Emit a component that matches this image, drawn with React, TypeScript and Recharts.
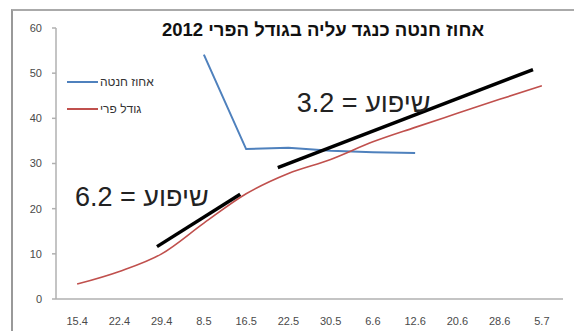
import { LineChart, Line, XAxis, YAxis, ReferenceLine, ReferenceDot } from 'recharts';

const CATEGORIES = ['15.4', '22.4', '29.4', '8.5', '16.5', '22.5', '30.5', '6.6', '12.6', '20.6', '28.6', '5.7'];
const FRUIT_SET = [null, null, null, 54.1, 33.2, 33.5, 32.8, 32.5, 32.3, null, null, null];
const FRUIT_SIZE = [3.3, 6.1, 10.0, 16.8, 23.3, 27.8, 30.9, 34.8, 38.0, 41.1, 44.2, 47.2];
const Y_TICKS = [0, 10, 20, 30, 40, 50, 60];

// trend segments in (category index, value) units
const TREND_1 = [{ x: 1.89, y: 11.6 }, { x: 3.86, y: 23.2 }];
const TREND_2 = [{ x: 4.75, y: 29.1 }, { x: 10.79, y: 50.8 }];
const SLOPE_LABELS = [
  { x: -0.05, y: 20.5, text: '6.2 = שיפוע' },
  { x: 5.2, y: 41.5, text: '3.2 = שיפוע' },
];
const BOUNDARY_TICKS = Array.from({ length: 13 }, (_, i) => i - 0.5);

const SERIES = [
  { key: 'set', name: 'אחוז חנטה', color: '#4f81bd' },
  { key: 'size', name: 'גודל פרי', color: '#c0504d' },
];

const data = CATEGORIES.map((c, i) => ({ cat: c, set: FRUIT_SET[i], size: FRUIT_SIZE[i] }));

const FONT = '"Liberation Sans", Arial, sans-serif';
const AXIS = '#b0b0b0';
const W = 574;
const H = 331;
const PLOT_W = W - 56 - 11;

function SlopeText(props: any) {
  const { viewBox, value } = props;
  return (
    <text x={viewBox.x} y={viewBox.y} fontSize={27} fontFamily={FONT} fill="#222" textAnchor="start">
      {value}
    </text>
  );
}

export default function App() {
  return (
    <div style={{ position: 'absolute', left: 0, top: 0, width: W, height: H, background: '#fff', overflow: 'hidden', fontFamily: FONT }}>
      <div style={{ position: 'absolute', left: 11, top: 9, width: 700, height: 400, borderLeft: '2px solid #999', borderTop: '2px solid #aaa' }} />
      <div style={{ position: 'absolute', left: 0, top: 19, width: 646, textAlign: 'center', fontSize: 18.5, fontWeight: 700, color: '#111' }}>
        אחוז חנטה כנגד עליה בגודל הפרי 2012
      </div>
      <div style={{ position: 'absolute', left: 67, top: 68, fontSize: 12, color: '#333' }}>
        {SERIES.map((s) => (
          <div key={s.key} style={{ display: 'flex', alignItems: 'center', height: 27 }}>
            <div style={{ width: 31, height: 2, background: s.color, marginRight: 2 }} />
            <span>{s.name}</span>
          </div>
        ))}
      </div>
      <div style={{ position: 'absolute', left: 0, top: 0 }}>
        <LineChart width={W} height={H} data={data} margin={{ top: 28, right: 11, bottom: 0, left: 14 }}>
          <XAxis
            xAxisId="n"
            type="number"
            dataKey={() => 0}
            domain={[-0.5, 11.5]}
            ticks={BOUNDARY_TICKS}
            tick={false}
            height={0}
            tickSize={4}
            stroke={AXIS}
            strokeWidth={1.5}
            allowDataOverflow
          />
          <XAxis
            xAxisId="c"
            dataKey="cat"
            height={32}
            padding={{ left: PLOT_W / 24, right: PLOT_W / 24 }}
            stroke={AXIS}
            strokeWidth={1.5}
            tickLine={false}
            tickMargin={12}
            interval={0}
            tick={{ fill: '#4a4a4a', fontSize: 11, fontFamily: FONT }}
          />
          <YAxis
            width={42}
            domain={[0, 60]}
            ticks={Y_TICKS}
            interval={0}
            tickSize={4}
            tickMargin={10}
            stroke={AXIS}
            strokeWidth={1.5}
            tick={{ fill: '#4a4a4a', fontSize: 11, fontFamily: FONT }}
          />
          <Line xAxisId="c" type="linear" dataKey="set" name={SERIES[0].name} stroke={SERIES[0].color} strokeWidth={2} dot={false} isAnimationActive={false} />
          <Line xAxisId="c" type="monotone" dataKey="size" name={SERIES[1].name} stroke={SERIES[1].color} strokeWidth={1.6} dot={false} isAnimationActive={false} />
          <ReferenceLine xAxisId="n" segment={TREND_1} stroke="#000" strokeWidth={3.5} ifOverflow="visible" />
          <ReferenceLine xAxisId="n" segment={TREND_2} stroke="#000" strokeWidth={3.5} ifOverflow="visible" />
          {SLOPE_LABELS.map((l) => (
            <ReferenceDot
              key={l.text}
              xAxisId="n"
              x={l.x}
              y={l.y}
              r={0}
              fill="none"
              stroke="none"
              ifOverflow="visible"
              label={<SlopeText value={l.text} />}
            />
          ))}
        </LineChart>
      </div>
    </div>
  );
}
